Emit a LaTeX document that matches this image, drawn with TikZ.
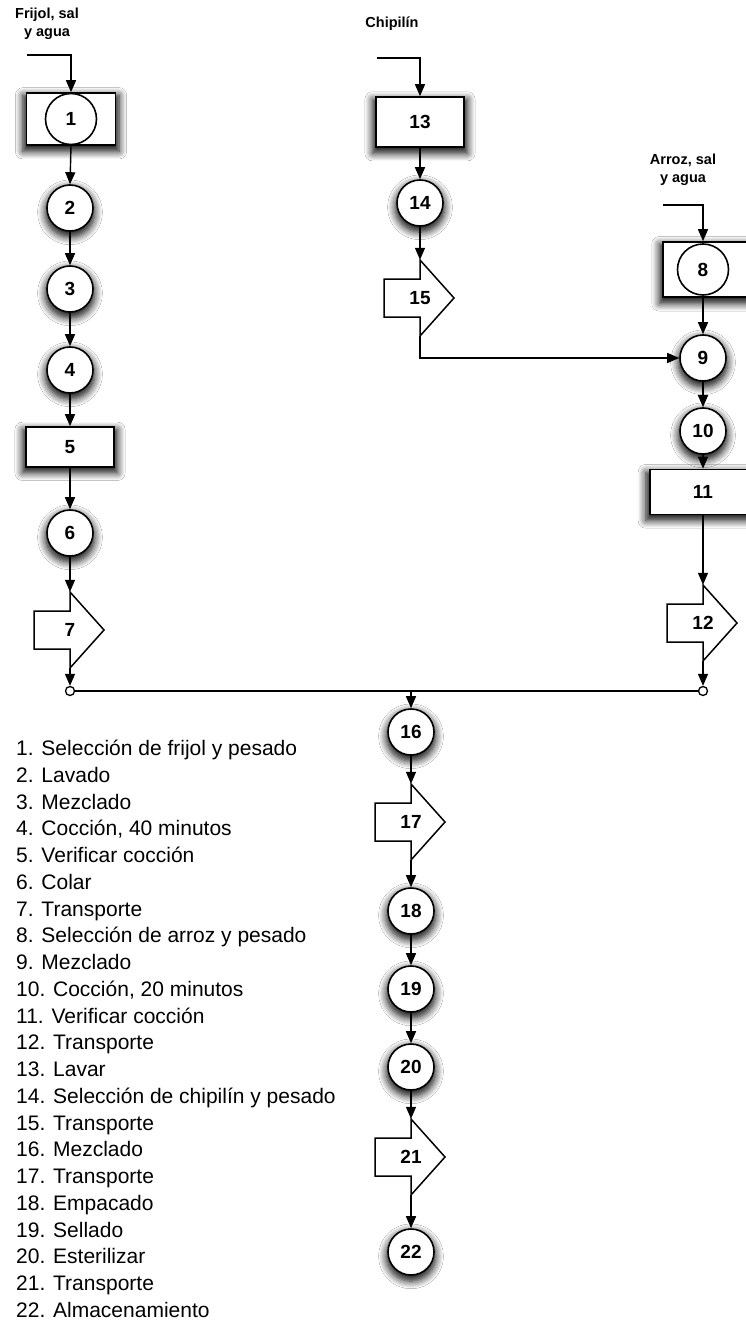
\documentclass[tikz,border=0pt]{standalone}
\usepackage{fontspec}
\setmainfont{Liberation Sans}
\usetikzlibrary{arrows.meta,calc,shadows.blur}

\newcommand\legfont{\fontsize{21}{26.75}\selectfont}
\newcommand\numfont{\fontsize{19}{22}\selectfont\bfseries}
\newcommand\topfont{\fontsize{14.5}{18}\selectfont\bfseries}

\tikzset{
  haze/.style={blur shadow={shadow xshift=0pt, shadow yshift=-4pt,
      shadow blur radius=7pt, shadow opacity=95, shadow scale=1.08,
      shadow blur steps=8}},
  opcircle/.style={circle, draw, line width=1.6pt, fill=white,
      minimum size=46pt, inner sep=0pt, font=\numfont, haze},
  incircle/.style={circle, draw, line width=1.6pt, fill=white,
      minimum size=51pt, inner sep=0pt, font=\numfont},
  opbox/.style={rectangle, draw, line width=1.6pt, fill=white,
      inner sep=0pt, font=\numfont, haze},
  tshape/.style={draw, line width=1.5pt, fill=white, line join=miter},
  tnode/.style={rectangle, minimum width=70pt, minimum height=76pt,
      inner sep=0pt, font=\numfont},
  junction/.style={circle, draw, line width=1.3pt, fill=white,
      minimum size=9pt, inner sep=0pt},
  arr/.style={line width=1.4pt, -{Triangle[length=12pt,width=10pt]}},
  plain/.style={line width=1.4pt},
  toplabel/.style={font=\topfont, align=center, inner sep=0pt},
  legline/.style={font=\legfont, anchor=base west, inner sep=0pt},
}

% transport symbol: a block arrow whose spine passes through the centre
\newcommand\transp[3]{%
  \coordinate (#1c) at (#2);
  \draw[tshape] ($(#1c)+(0,-38)$) -- ($(#1c)+(34,0)$) -- ($(#1c)+(0,38)$)
    -- ($(#1c)+(0,19)$) -- ($(#1c)+(-36,19)$) -- ($(#1c)+(-36,-19)$)
    -- ($(#1c)+(0,-19)$) -- cycle;
  \node[tnode] (#1) at (#1c) {#3};
}

\begin{document}
\begin{tikzpicture}[x=1pt, y=-1pt]
  \useasboundingbox[fill=white] (0,0) rectangle (746,1324);

  % ---- bean line ----
  \node[toplabel] (lab1) at (47,24) {Frijol, sal\\y agua};
  \coordinate (in1) at (27,55);
  \node[opbox, minimum width=89pt, minimum height=52pt] (b1) at (71,119) {};
  \node[incircle] (c1) at (71,119) {1};
  \node[opcircle] (c2) at (70,208) {2};
  \node[opcircle] (c3) at (70,289) {3};
  \node[opcircle] (c4) at (70,370) {4};
  \node[opbox, minimum width=88pt, minimum height=40pt] (b5) at (70,447) {5};
  \node[opcircle] (c6) at (70,533) {6};
  \transp{t7}{70,630}{7}
  \node[junction] (j1) at (70,691) {};

  % ---- chipilin line ----
  \node[toplabel] (lab13) at (392,24) {Chipilín};
  \coordinate (in13) at (377,58);
  \node[opbox, minimum width=88pt, minimum height=50pt] (b13) at (420,122) {13};
  \node[opcircle] (c14) at (420,203) {14};
  \transp{t15}{420,298}{15}

  % ---- rice line ----
  \node[toplabel] (lab8) at (683,170) {Arroz, sal\\y agua};
  \coordinate (in8) at (663,205);
  \node[opbox, minimum width=92pt, minimum height=55pt] (b8) at (709,269.5) {};
  \node[incircle] (c8) at (703,269.5) {8};
  \node[opcircle] (c9) at (703,358) {9};
  \node[opcircle] (c10) at (703,431) {10};
  \node[opbox, minimum width=106pt, minimum height=45pt] (b11) at (703,492) {11};
  \transp{t12}{703,623}{12}
  \node[junction] (j2) at (703,691) {};

  % ---- common line ----
  \node[opcircle] (c16) at (411,732) {16};
  \transp{t17}{411,822}{17}
  \node[opcircle] (c18) at (411,911) {18};
  \node[opcircle] (c19) at (411,989) {19};
  \node[opcircle] (c20) at (411,1067) {20};
  \transp{t21}{411,1157}{21}
  \node[opcircle] (c22) at (411,1252) {22};
  \coordinate (jm) at (c16 |- j1);

  % ---- connectors ----
  \draw[arr] (in1) -| (b1.north);
  \draw[arr] (b1.south) -- (c2.north);
  \draw[arr] (c2.south) -- (c3.north);
  \draw[arr] (c3.south) -- (c4.north);
  \draw[arr] (c4.south) -- (b5.north);
  \draw[arr] (b5.south) -- (c6.north);
  \draw[arr] (c6.south) -- (t7.north);
  \draw[arr] (t7.south) -- (j1.north);

  \draw[arr] (in13) -| (b13.north);
  \draw[arr] (b13.south) -- (c14.north);
  \draw[arr] (c14.south) -- (t15.north);
  \draw[arr] (t15.south) |- (c9.west);

  \draw[arr] (in8) -| (b8.north -| c8);
  \draw[arr] (b8.south -| c8) -- (c9.north);
  \draw[arr] (c9.south) -- (c10.north);
  \draw[arr] (c10.south) -- (b11.north);
  \draw[arr] (b11.south) -- (t12.north);
  \draw[arr] (t12.south) -- (j2.north);

  \draw[plain] (j1.east) -- (j2.west);
  \draw[arr] (jm) -- (c16.north);
  \draw[arr] (c16.south) -- (t17.north);
  \draw[arr] (t17.south) -- (c18.north);
  \draw[arr] (c18.south) -- (c19.north);
  \draw[arr] (c19.south) -- (c20.north);
  \draw[arr] (c20.south) -- (t21.north);
  \draw[arr] (t21.south) -- (c22.north);

  % ---- legend ----
  \foreach \k/\txt in {
    1/{1. Selección de frijol y pesado},
    2/{2. Lavado},
    3/{3. Mezclado},
    4/{4. Cocción, 40 minutos},
    5/{5. Verificar cocción},
    6/{6. Colar},
    7/{7. Transporte},
    8/{8. Selección de arroz y pesado},
    9/{9. Mezclado},
    10/{10. Cocción, 20 minutos},
    11/{11. Verificar cocción},
    12/{12. Transporte},
    13/{13. Lavar},
    14/{14. Selección de chipilín y pesado},
    15/{15. Transporte},
    16/{16. Mezclado},
    17/{17. Transporte},
    18/{18. Empacado},
    19/{19. Sellado},
    20/{20. Esterilizar},
    21/{21. Transporte},
    22/{22. Almacenamiento}}
  {
    \node[legline] (leg\k) at (16, {755.5 + (\k-1)*26.75}) {\txt};
  }
\end{tikzpicture}
\end{document}
